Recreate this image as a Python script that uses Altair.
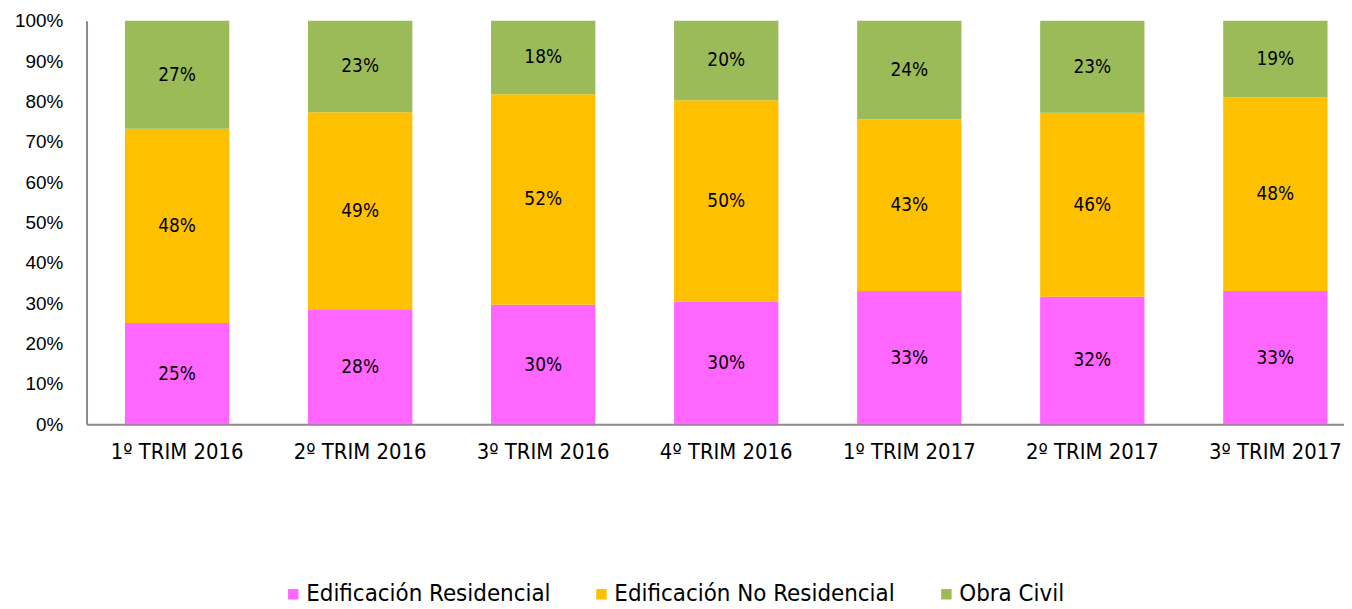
import altair as alt
import pandas as pd

periods = ["1º TRIM 2016", "2º TRIM 2016", "3º TRIM 2016", "4º TRIM 2016",
           "1º TRIM 2017", "2º TRIM 2017", "3º TRIM 2017"]
series = ["Edificación Residencial", "Edificación No Residencial", "Obra Civil"]
residencial = [0.251, 0.283, 0.296, 0.304, 0.330, 0.316, 0.330]
no_residencial = [0.481, 0.490, 0.522, 0.499, 0.426, 0.456, 0.480]
obra_civil = [0.268, 0.227, 0.182, 0.197, 0.244, 0.228, 0.190]
colors = ["#FF66FF", "#FFC000", "#9BBB59"]

rows = []
for i, p in enumerate(periods):
    for j, (s, vals) in enumerate(zip(series, [residencial, no_residencial, obra_civil])):
        rows.append({"periodo": p, "serie": s, "orden": j, "valor": vals[i]})
df = pd.DataFrame(rows)

FONT = "DejaVu Sans Condensed, DejaVu Sans"

x = alt.X("periodo:N", sort=periods, title=None,
          scale=alt.Scale(paddingInner=0.43, paddingOuter=0.15, align=0.70),
          axis=alt.Axis(labelAngle=0, labelFont=FONT, labelFontSize=22,
                        labelColor="#000000", labelPadding=17, ticks=False,
                        domainColor="#898989", domainWidth=2, labelBaseline="top"))

base = alt.Chart(df).transform_stack(
    stack="valor", groupby=["periodo"], as_=["y0", "y1"],
    sort=[alt.SortField("orden", order="ascending")]
).transform_calculate(mid="(datum.y0 + datum.y1) / 2")

bars = base.mark_bar().encode(
    x=x,
    y=alt.Y("y0:Q", title=None,
            scale=alt.Scale(domain=[0, 1], nice=False),
            axis=alt.Axis(format=".0%", values=[i / 10 for i in range(11)],
                          labelFont="Liberation Sans", labelFontSize=19,
                          labelColor="#000000", labelPadding=24, ticks=False,
                          grid=False, domainColor="#898989", domainWidth=2)),
    y2="y1:Q",
    color=alt.Color("serie:N", sort=series,
                    scale=alt.Scale(domain=series, range=colors),
                    legend=alt.Legend(title=None, orient="none", direction="horizontal",
                                      legendX=196, legendY=565,
                                      symbolType="square", symbolSize=110,
                                      symbolStrokeWidth=0, labelFont=FONT,
                                      labelFontSize=24, labelColor="#000000",
                                      labelLimit=0, labelOffset=1, columnPadding=39)),
    order=alt.Order("orden:Q"),
)

labels = base.mark_text(font=FONT, fontSize=19, color="#000000").encode(
    x=alt.X("periodo:N", sort=periods),
    y=alt.Y("mid:Q"),
    text=alt.Text("valor:Q", format=".0%"),
)

chart = alt.layer(bars, labels).properties(
    width=1265, height=406,
    autosize=alt.AutoSizeParams(type="none"),
    padding={"left": 79, "top": 11, "right": 0, "bottom": 181},
).configure_view(stroke=None).configure_axis(grid=False)

chart.save("out.html", embed_options={"renderer": "svg", "actions": False})
